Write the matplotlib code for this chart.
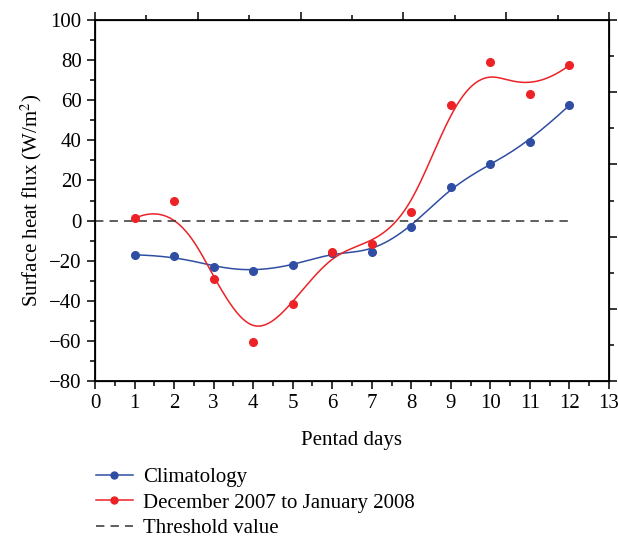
import matplotlib
matplotlib.use("Agg")
import matplotlib.pyplot as plt
import numpy as np
from matplotlib.lines import Line2D
from matplotlib.ticker import MultipleLocator

############   DATA   #############
pentad = np.arange(1, 13)
climatology = [-17.1, -17.6, -23.2, -25.3, -22.4, -16.0, -15.8, -3.4, 16.7, 28.1, 39.3, 57.5]
dec07_jan08 = [1.1, 10.0, -29.3, -60.7, -41.4, -15.8, -11.5, 4.1, 57.5, 79.2, 63.0, 77.4]
threshold = 0.0

BLUE = "#2f4ea3"
RED = "#ec2227"


def bspline(px, py, k=3, npts=600):
    """clamped uniform B-spline using the data points as control points"""
    px = np.asarray(px, float)
    py = np.asarray(py, float)
    n = len(px)
    t = np.concatenate([np.zeros(k), np.arange(n - k + 1), np.full(k, n - k)]).astype(float)
    u = np.linspace(0, n - k, npts)
    m = len(t) - 1
    N = np.zeros((npts, m))
    for i in range(m):
        N[:, i] = (t[i] <= u) & (u < t[i + 1])
    N[-1, n - 1] = 1.0
    for d in range(1, k + 1):
        new = np.zeros((npts, m - d))
        for i in range(m - d):
            den1 = t[i + d] - t[i]
            den2 = t[i + d + 1] - t[i + 1]
            left = (u - t[i]) / den1 * N[:, i] if den1 > 0 else 0
            right = (t[i + d + 1] - u) / den2 * N[:, i + 1] if den2 > 0 else 0
            new[:, i] = left + right
        N = new
    return N @ px, N @ py


plt.rcParams["font.family"] = ["Liberation Serif", "DejaVu Serif"]
plt.rcParams["mathtext.fontset"] = "stix"
fs = 15

fig = plt.figure(figsize=(6.18, 5.4), dpi=100)
ax = fig.add_axes([0.1537, 0.2944, 0.8317, 0.6686])

xs, ys = bspline(pentad, climatology)
ax.plot(xs, ys, color=BLUE, lw=1.1)
xs, ys = bspline(pentad, dec07_jan08)
ax.plot(xs, ys, color=RED, lw=1.1)
ax.plot(pentad, climatology, "o", color=BLUE, ms=5.5, zorder=3)
ax.plot(pentad, dec07_jan08, "o", color=RED, ms=5.5, zorder=3)
ax.plot([0, 12], [threshold, threshold], color="#333333", lw=1.1, dashes=(5.5, 4))

ax.set_xlim(0, 13)
ax.set_ylim(-80, 100)
ax.xaxis.set_major_locator(MultipleLocator(1))
ax.xaxis.set_minor_locator(MultipleLocator(0.5))
ax.yaxis.set_major_locator(MultipleLocator(20))
ax.yaxis.set_minor_locator(MultipleLocator(10))
ax.tick_params(which="major", direction="out", length=6, width=1.1, labelsize=fs)
ax.tick_params(which="minor", direction="out", length=3.5, width=1.1)
ax.set_yticks(ax.get_yticks())
ax.set_yticklabels([str(int(v)).replace("-", "\u2212") for v in ax.get_yticks()])
ax.set_ylim(-80, 100)
for s in ax.spines.values():
    s.set_linewidth(1.3)

ax.set_xlabel("Pentad days", fontsize=fs, labelpad=13)
ax.set_ylabel("Surface heat flux (W/m$^2$)", fontsize=fs, labelpad=4)

# top and right frame ticks (own scales, no labels)
top = ax.twiny()
top.set_xlim(0, 10)
top.xaxis.set_major_locator(MultipleLocator(2))
top.xaxis.set_minor_locator(MultipleLocator(1))
top.tick_params(which="major", direction="out", length=6, width=1.1, labeltop=False)
top.tick_params(which="minor", direction="out", length=3.5, width=1.1)
right = ax.twinx()
right.set_ylim(0, 10)
right.yaxis.set_major_locator(MultipleLocator(2))
right.yaxis.set_minor_locator(MultipleLocator(1))
right.tick_params(which="major", direction="out", length=6, width=1.1, labelright=False)
right.tick_params(which="minor", direction="out", length=3.5, width=1.1)

handles = [
    Line2D([], [], color=BLUE, lw=1.1, marker="o", ms=5),
    Line2D([], [], color=RED, lw=1.1, marker="o", ms=5),
    Line2D([], [], color="#333333", lw=1.1, dashes=(5.5, 4)),
]
labels = ["Climatology", "December 2007 to January 2008", "Threshold value"]
fig.legend(handles, labels, loc="upper left", bbox_to_anchor=(0.142, 0.149), frameon=False,
           fontsize=fs, handlelength=1.75, handletextpad=0.5, labelspacing=0.27, borderaxespad=0,
           numpoints=1)

fig.savefig("out.png", dpi=100)
